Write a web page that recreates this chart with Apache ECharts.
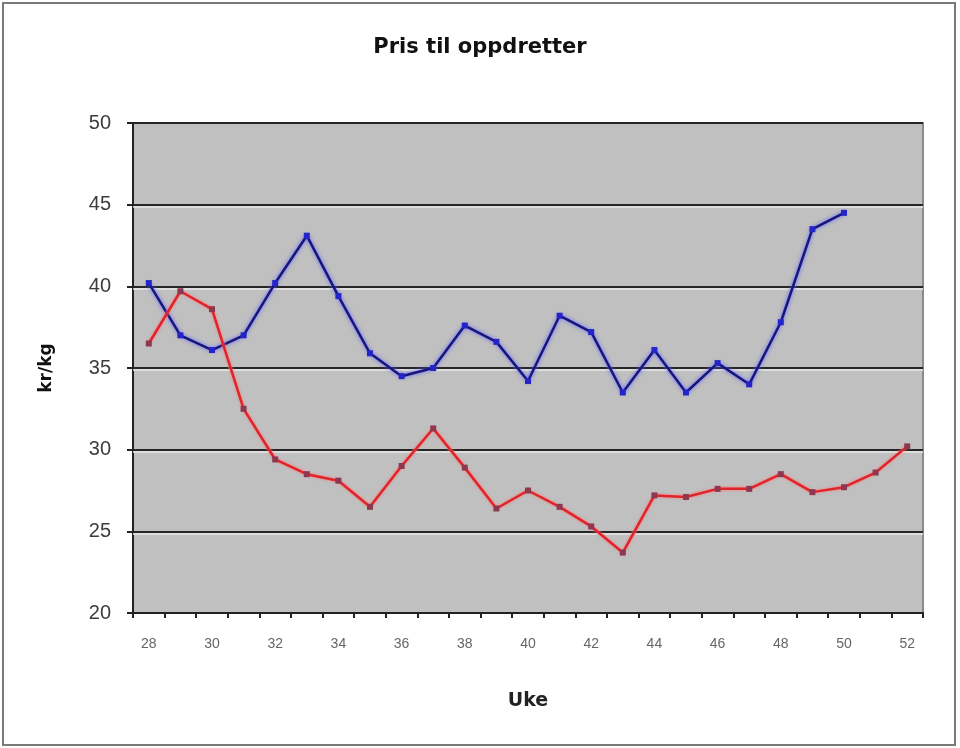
<!DOCTYPE html>
<html>
<head>
<meta charset="utf-8">
<script src="https://cdn.jsdelivr.net/npm/echarts@6/dist/echarts.min.js"></script>
<style>
  html, body { margin: 0; padding: 0; background: #fff; }
  #chart { width: 960px; height: 748px; }
</style>
</head>
<body>
<div id="chart"></div>
<script>
// uker 28 - 52
const weeks = ['28', '29', '30', '31', '32', '33', '34', '35', '36', '37', '38', '39', '40',
    '41', '42', '43', '44', '45', '46', '47', '48', '49', '50', '51', '52'];
// blå serie (slutter uke 50)
const blueSeries = [40.2, 37.0, 36.1, 37.0, 40.2, 43.1, 39.4, 35.9, 34.5, 35.0, 37.6, 36.6,
    34.2, 38.2, 37.2, 33.5, 36.1, 33.5, 35.3, 34.0, 37.8, 43.5, 44.5];
// rød serie
const redSeries = [36.5, 39.7, 38.6, 32.5, 29.4, 28.5, 28.1, 26.5, 29.0, 31.3, 28.9, 26.4,
    27.5, 26.5, 25.3, 23.7, 27.2, 27.1, 27.6, 27.6, 28.5, 27.4, 27.7, 28.6, 30.2];
const yTicks = [20, 25, 30, 35, 40, 45, 50];

const labelFont = '"DejaVu Sans", Verdana, sans-serif';

// lys kant under gitterlinjene (excel-look)
const highlight = yTicks.slice(1, -1).map(v => ({ yAxis: v - 0.12 }));

const chart = echarts.init(document.getElementById('chart'));

const option = {
    animation: false,
    backgroundColor: '#fff',
    textStyle: { fontFamily: '"Liberation Sans", Arial, sans-serif' },
    graphic: [{
        type: 'rect',
        shape: { x: 3, y: 3, width: 952, height: 742 },
        style: { fill: 'none', stroke: '#7a7a7a', lineWidth: 2 },
        silent: true
    }],
    title: {
        text: 'Pris til oppdretter',
        left: 'center',
        top: 32,
        textStyle: { fontSize: 21, fontWeight: 'bold', color: '#111', fontFamily: labelFont }
    },
    grid: {
        left: 133,
        top: 123,
        width: 790,
        height: 490,
        show: true,
        backgroundColor: '#c0c0c0',
        borderColor: '#8a8a8a',
        borderWidth: 2
    },
    xAxis: {
        type: 'category',
        data: weeks,
        boundaryGap: true,
        name: 'Uke',
        nameLocation: 'middle',
        nameGap: 79,
        nameTextStyle: { fontSize: 19, fontWeight: 'bold', color: '#222', fontFamily: labelFont },
        axisLine: { lineStyle: { color: '#222', width: 2 } },
        axisTick: { show: true, interval: 0, length: 5, lineStyle: { color: '#222', width: 2 } },
        axisLabel: { interval: 1, fontSize: 14, color: '#666', margin: 24 },
        splitLine: { show: false }
    },
    yAxis: {
        type: 'value',
        min: yTicks[0],
        max: yTicks[yTicks.length - 1],
        interval: 5,
        name: 'kr/kg',
        nameLocation: 'middle',
        nameGap: 78,
        nameRotate: 90,
        nameTextStyle: { fontSize: 17, fontWeight: 'bold', color: '#111', fontFamily: labelFont },
        axisLine: { show: true, lineStyle: { color: '#222', width: 2 } },
        axisTick: { show: true, length: 6, lineStyle: { color: '#222', width: 2 } },
        axisLabel: { fontSize: 20, color: '#3c3c3c', margin: 22 },
        splitLine: { show: true, lineStyle: { color: '#262626', width: 2 } }
    },
    series: [
        {
            name: 'blå',
            type: 'line',
            data: blueSeries,
            symbol: 'rect',
            symbolSize: 6,
            lineStyle: { color: '#16167e', width: 2.5, shadowColor: '#5a5aff', shadowBlur: 4 },
            itemStyle: { color: '#2424c8' },
            z: 3,
            markLine: {
                silent: true,
                symbol: 'none',
                label: { show: false },
                lineStyle: { color: '#e8e8e8', width: 1.5, type: 'solid' },
                data: highlight,
                z: 1
            }
        },
        {
            name: 'rød',
            type: 'line',
            data: redSeries,
            symbol: 'rect',
            symbolSize: 6,
            lineStyle: { color: '#e0242c', width: 2.5, shadowColor: '#ff7070', shadowBlur: 3 },
            itemStyle: { color: '#8e3850' },
            z: 3
        }
    ]
};

chart.setOption(option);
</script>
</body>
</html>
